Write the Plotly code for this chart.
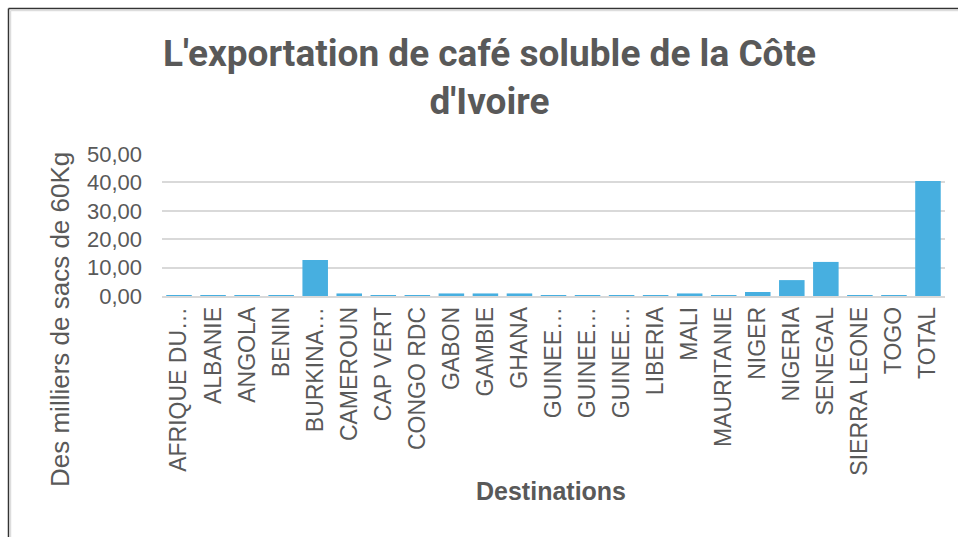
import plotly.graph_objects as go

categories = ["AFRIQUE DU SUD", "ALBANIE", "ANGOLA", "BENIN", "BURKINA FASO", "CAMEROUN",
              "CAP VERT", "CONGO RDC", "GABON", "GAMBIE", "GHANA", "GUINEE BISSAU",
              "GUINEE CONAKRY", "GUINEE EQUATORIALE", "LIBERIA", "MALI", "MAURITANIE",
              "NIGER", "NIGERIA", "SENEGAL", "SIERRA LEONE", "TOGO", "TOTAL"]
tick_labels = ["AFRIQUE DU…", "ALBANIE", "ANGOLA", "BENIN", "BURKINA…", "CAMEROUN",
               "CAP VERT", "CONGO RDC", "GABON", "GAMBIE", "GHANA", "GUINEE…",
               "GUINEE…", "GUINEE…", "LIBERIA", "MALI", "MAURITANIE",
               "NIGER", "NIGERIA", "SENEGAL", "SIERRA LEONE", "TOGO", "TOTAL"]
values = [0.02, 0.3, 0.1, 0.02, 12.7, 0.9, 0.1, 0.02, 0.9, 0.9, 0.9, 0.02,
          0.3, 0.02, 0.02, 0.9, 0.3, 1.4, 5.6, 12.0, 0.02, 0.3, 40.5]
y_ticks = [0, 10, 20, 30, 40, 50]

W, H = 958, 537
L, R, T, B = 162, 13, 154, 241
pw, ph = W - L - R, H - T - B

def px(x):
    return (x - L) / pw

def py(y):
    return (H - B - y) / ph

gray = "#595959"
fig = go.Figure(go.Bar(x=categories, y=values, marker=dict(color="#47AFE0", line=dict(width=0)),
                       width=0.75))

fig.update_layout(
    width=W, height=H,
    margin=dict(l=L, r=R, t=T, b=B),
    paper_bgcolor="white", plot_bgcolor="white",
    separators=",.",
    showlegend=False,
    font=dict(family="Liberation Sans, Arial, sans-serif", color=gray),
    xaxis=dict(tickvals=categories, ticktext=tick_labels, tickangle=-90,
               tickfont=dict(size=23, color=gray), showgrid=False, showline=True,
               linecolor="#d9d9d9", linewidth=1.5, ticks="", automargin=False),
    yaxis=dict(range=[0, 50], tickvals=y_ticks, tickformat=".2f",
               tickfont=dict(size=22, color=gray), showgrid=True, gridcolor="#d9d9d9",
               gridwidth=1.5, zeroline=False, showline=False, ticks="", ticklen=0,
               ticklabelstandoff=19, automargin=False),
    shapes=[
        dict(type="line", xref="paper", yref="paper", x0=px(8.5), x1=px(W + 5),
             y0=py(8.5), y1=py(8.5), line=dict(color="#333333", width=1.5)),
        dict(type="line", xref="paper", yref="paper", x0=px(8.5), x1=px(8.5),
             y0=py(8.5), y1=py(H + 5), line=dict(color="#333333", width=1.5)),
        dict(type="line", xref="paper", yref="paper", x0=px(10.5), x1=px(W + 5),
             y0=py(10.5), y1=py(10.5), line=dict(color="#dddddd", width=1.5)),
        dict(type="line", xref="paper", yref="paper", x0=px(10.5), x1=px(10.5),
             y0=py(10.5), y1=py(H + 5), line=dict(color="#dddddd", width=1.5)),
    ],
    annotations=[
        dict(text="<b>L'exportation de café soluble de la Côte<br>d'Ivoire</b>",
             xref="paper", yref="paper", x=px(489), y=py(77), xanchor="center",
             yanchor="middle", showarrow=False, align="center",
             font=dict(size=37, color=gray, family="Roboto, Liberation Sans, sans-serif")),
        dict(text="Des milliers de sacs de 60Kg", textangle=-90,
             xref="paper", yref="paper", x=px(60), y=py(320), xanchor="center",
             yanchor="middle", showarrow=False,
             font=dict(size=26, color=gray)),
        dict(text="<b>Destinations</b>",
             xref="paper", yref="paper", x=px(551), y=py(491), xanchor="center",
             yanchor="middle", showarrow=False,
             font=dict(size=25, color=gray)),
    ],
)

fig.write_html("out.html", config={"displayModeBar": False},
               post_script="document.body.style.margin='0';")
